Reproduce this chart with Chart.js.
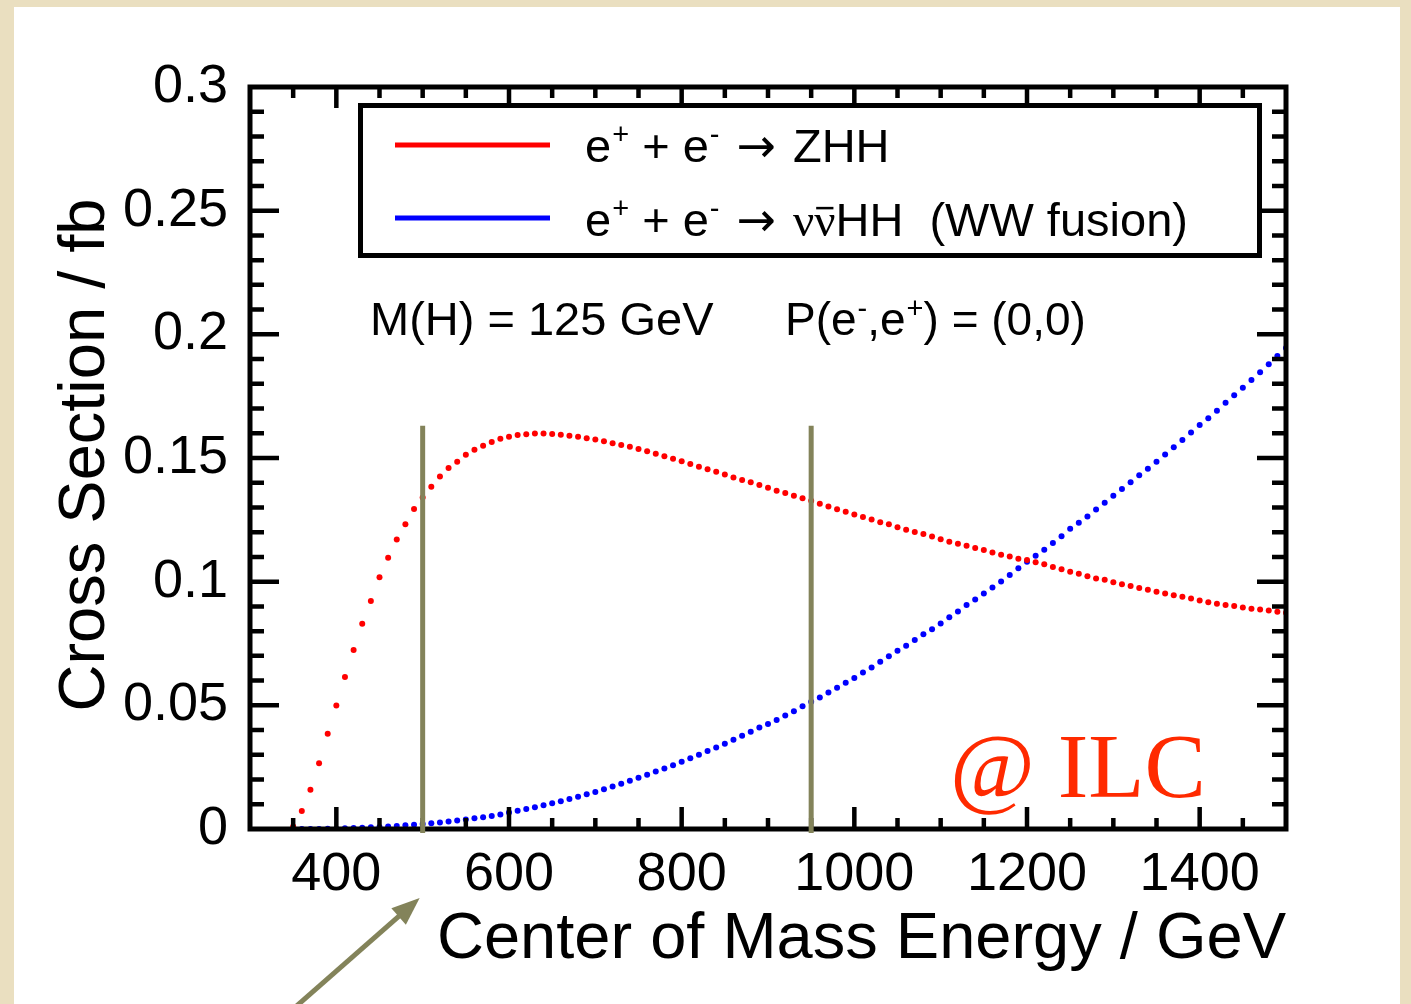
<!DOCTYPE html>
<html>
<head>
<meta charset="utf-8">
<script src="https://cdn.jsdelivr.net/npm/chart.js@4.4.1/dist/chart.umd.min.js"></script>
<style>
    html, body { margin: 0; padding: 0; }
    body { width: 1411px; height: 1004px; background: #eadfc0; position: relative; overflow: hidden; }
    #panel { position: absolute; left: 14px; top: 7px; width: 1386px; height: 1010px; background: #fff; }
    #grafico { position: absolute; left: 0; top: 0; }
</style>
</head>
<body>
<div id="panel"></div>
<canvas id="grafico" width="1411" height="1004"></canvas>
<script>
// Energia de centro de masa (GeV), un punto cada 10 GeV
const energias = [
    350, 360, 370, 380, 390, 400, 410, 420, 430, 440, 450, 460, 470, 480, 490, 500,
    510, 520, 530, 540, 550, 560, 570, 580, 590, 600, 610, 620, 630, 640, 650, 660,
    670, 680, 690, 700, 710, 720, 730, 740, 750, 760, 770, 780, 790, 800, 810, 820,
    830, 840, 850, 860, 870, 880, 890, 900, 910, 920, 930, 940, 950, 960, 970, 980,
    990, 1000, 1010, 1020, 1030, 1040, 1050, 1060, 1070, 1080, 1090, 1100, 1110, 1120,
    1130, 1140, 1150, 1160, 1170, 1180, 1190, 1200, 1210, 1220, 1230, 1240, 1250, 1260,
    1270, 1280, 1290, 1300, 1310, 1320, 1330, 1340, 1350, 1360, 1370, 1380, 1390, 1400,
    1410, 1420, 1430, 1440, 1450, 1460, 1470, 1480, 1490, 1500
];

// e+ e- -> ZHH (fb)
const sigmaZHH = [
    0.0010, 0.0073, 0.0159, 0.0266, 0.0385, 0.0499, 0.0615, 0.0724, 0.0830, 0.0922, 0.1018, 0.1097, 0.1170, 0.1232, 0.1294, 0.1340,
    0.1384, 0.1425, 0.1460, 0.1485, 0.1513, 0.1533, 0.1550, 0.1565, 0.1578, 0.1586, 0.1593, 0.1596, 0.1599, 0.1599, 0.1597, 0.1594,
    0.1590, 0.1586, 0.1580, 0.1575, 0.1568, 0.1560, 0.1553, 0.1545, 0.1536, 0.1527, 0.1517, 0.1507, 0.1497, 0.1487, 0.1476, 0.1465,
    0.1455, 0.1444, 0.1433, 0.1421, 0.1411, 0.1402, 0.1391, 0.1380, 0.1368, 0.1358, 0.1347, 0.1337, 0.1327, 0.1315, 0.1304, 0.1293,
    0.1283, 0.1272, 0.1261, 0.1251, 0.1240, 0.1232, 0.1220, 0.1210, 0.1201, 0.1193, 0.1183, 0.1171, 0.1161, 0.1153,
    0.1145, 0.1136, 0.1128, 0.1118, 0.1109, 0.1102, 0.1093, 0.1088, 0.1079, 0.1070, 0.1059, 0.1050, 0.1040, 0.1032,
    0.1022, 0.1013, 0.1008, 0.0998, 0.0990, 0.0982, 0.0974, 0.0967, 0.0959, 0.0952, 0.0945, 0.0939, 0.0932, 0.0924,
    0.0917, 0.0911, 0.0906, 0.0902, 0.0896, 0.0891, 0.0887, 0.0883, 0.0878, 0.0874
];

// e+ e- -> nu nubar HH, fusion WW (fb)
const sigmaWW = [
    0.0000, 0.0000, 0.0000, 0.0000, 0.0001, 0.0001, 0.0003, 0.0004, 0.0005, 0.0007, 0.0008, 0.0010, 0.0012, 0.0015, 0.0017, 0.0020,
    0.0023, 0.0026, 0.0030, 0.0034, 0.0038, 0.0043, 0.0048, 0.0053, 0.0059, 0.0067, 0.0074, 0.0081, 0.0088, 0.0096, 0.0104, 0.0112,
    0.0121, 0.0130, 0.0140, 0.0150, 0.0161, 0.0172, 0.0183, 0.0195, 0.0207, 0.0219, 0.0232, 0.0245, 0.0258, 0.0272, 0.0286, 0.0300,
    0.0315, 0.0330, 0.0345, 0.0361, 0.0377, 0.0393, 0.0410, 0.0425, 0.0441, 0.0459, 0.0476, 0.0496, 0.0514, 0.0532, 0.0552, 0.0571,
    0.0591, 0.0611, 0.0633, 0.0653, 0.0676, 0.0698, 0.0721, 0.0741, 0.0764, 0.0787, 0.0808, 0.0831, 0.0856, 0.0879,
    0.0906, 0.0928, 0.0952, 0.0976, 0.1001, 0.1027, 0.1054, 0.1081, 0.1105, 0.1129, 0.1156, 0.1184, 0.1214, 0.1238,
    0.1263, 0.1292, 0.1319, 0.1347, 0.1375, 0.1402, 0.1430, 0.1457, 0.1485, 0.1514, 0.1543, 0.1573, 0.1603, 0.1633,
    0.1661, 0.1691, 0.1723, 0.1754, 0.1784, 0.1815, 0.1847, 0.1879, 0.1912, 0.1945
];

// Ejes
const xTicks = [400, 600, 800, 1000, 1200, 1400];
const xTickLabels = ['400', '600', '800', '1000', '1200', '1400'];
const yTicks = [0, 0.05, 0.1, 0.15, 0.2, 0.25, 0.3];
const yTickLabels = ['0', '0.05', '0.1', '0.15', '0.2', '0.25', '0.3'];

// Lineas verticales (energias de operacion) y su altura
const lineasEnergia = [500, 950];
const lineasTope = 0.163;

const SANS = "'Liberation Sans', Arial, Helvetica, sans-serif";
const SERIF = "'Liberation Serif', 'Times New Roman', serif";
const FLECHA = "'DejaVu Sans', sans-serif";
const OLIVA = '#83835a';

Chart.defaults.font.family = SANS;
Chart.defaults.color = '#000';

// Texto con superindices, flecha y nu con barra
function textoRico(ctx, x, y, partes, size) {
    let cx = x;
    partes.forEach(p => {
        const tipo = p[1] || 'n';
        if (tipo === 'sup') {
            ctx.font = Math.round(size * 0.62) + 'px ' + SANS;
            ctx.fillText(p[0], cx + 1, y - size * 0.38);
            cx += ctx.measureText(p[0]).width + 1;
        } else if (tipo === 'flecha') {
            ctx.font = size + 'px ' + FLECHA;
            ctx.fillText(p[0], cx + 4, y);
            cx += ctx.measureText(p[0]).width + 8;
        } else if (tipo === 'nu' || tipo === 'nubar') {
            ctx.font = size + 'px ' + SERIF;
            const w = ctx.measureText(p[0]).width;
            ctx.fillText(p[0], cx, y);
            if (tipo === 'nubar') {
                ctx.fillRect(cx + 2, y - size * 0.62, w - 4, 2.5);
            }
            cx += w;
        } else {
            ctx.font = size + 'px ' + SANS;
            ctx.fillText(p[0], cx, y);
            cx += ctx.measureText(p[0]).width;
        }
    });
}

// Marco, ticks internos en los cuatro lados, textos y flecha
const decoracion = {
    id: 'decoracion',
    afterDatasetsDraw(chart) {
        const ctx = chart.ctx;
        const a = chart.chartArea;
        const xs = chart.scales.x;
        const ys = chart.scales.y;

        ctx.save();
        ctx.strokeStyle = '#000';
        ctx.lineCap = 'butt';

        // ticks eje X (mayor cada 200, menor cada 50)
        ctx.lineWidth = 4.5;
        for (let v = xs.min + 50; v < xs.max; v += 50) {
            const px = xs.getPixelForValue(v);
            const mayor = xTicks.includes(v);
            ctx.beginPath();
            ctx.moveTo(px, a.bottom); ctx.lineTo(px, a.bottom - (mayor ? 22 : 11));
            ctx.moveTo(px, a.top); ctx.lineTo(px, a.top + (mayor ? 21 : 11));
            ctx.stroke();
        }
        // ticks eje Y (mayor cada 0.05, menor cada 0.01)
        for (let i = 1; i < 30; i++) {
            const v = i / 100;
            const py = ys.getPixelForValue(v);
            const mayor = i % 5 === 0;
            ctx.beginPath();
            ctx.moveTo(a.left, py); ctx.lineTo(a.left + (mayor ? 29 : 14), py);
            ctx.moveTo(a.right, py); ctx.lineTo(a.right - (mayor ? 29 : 14), py);
            ctx.stroke();
        }

        // marco
        ctx.lineWidth = 5;
        ctx.strokeRect(a.left, a.top, a.right - a.left, a.bottom - a.top);

        // lineas verticales
        ctx.strokeStyle = OLIVA;
        ctx.lineWidth = 5;
        lineasEnergia.forEach(e => {
            const px = xs.getPixelForValue(e);
            ctx.beginPath();
            ctx.moveTo(px, ys.getPixelForValue(lineasTope));
            ctx.lineTo(px, a.bottom + 4);
            ctx.stroke();
        });

        // flecha hacia 500 GeV
        const tipX = xs.getPixelForValue(lineasEnergia[0]) - 3;
        const tipY = a.bottom + 69;
        const ang = Math.atan2(tipY - 1010, tipX - 292);
        ctx.beginPath();
        ctx.moveTo(292, 1010);
        ctx.lineTo(tipX - 18 * Math.cos(ang), tipY - 18 * Math.sin(ang));
        ctx.stroke();
        ctx.fillStyle = OLIVA;
        ctx.beginPath();
        ctx.moveTo(tipX, tipY);
        ctx.lineTo(tipX - 28 * Math.cos(ang) + 11 * Math.sin(ang), tipY - 28 * Math.sin(ang) - 11 * Math.cos(ang));
        ctx.lineTo(tipX - 28 * Math.cos(ang) - 11 * Math.sin(ang), tipY - 28 * Math.sin(ang) + 11 * Math.cos(ang));
        ctx.closePath();
        ctx.fill();

        // leyenda
        ctx.strokeStyle = '#000';
        ctx.lineWidth = 5;
        ctx.strokeRect(360.5, 105.5, 899, 150);
        ctx.lineWidth = 5;
        ctx.strokeStyle = '#ff0000';
        ctx.beginPath(); ctx.moveTo(395, 145); ctx.lineTo(550, 145); ctx.stroke();
        ctx.strokeStyle = '#0000ff';
        ctx.beginPath(); ctx.moveTo(395, 218); ctx.lineTo(550, 218); ctx.stroke();

        ctx.fillStyle = '#000';
        ctx.textAlign = 'left';
        ctx.textBaseline = 'alphabetic';
        textoRico(ctx, 585, 162, [['e'], ['+', 'sup'], [' + e'], ['-', 'sup'], [' '], ['\u2192', 'flecha'], [' ZHH']], 47);
        textoRico(ctx, 585, 236, [['e'], ['+', 'sup'], [' + e'], ['-', 'sup'], [' '], ['\u2192', 'flecha'], [' '], ['\u03bd', 'nu'], ['\u03bd', 'nubar'], ['HH  (WW fusion)']], 47);

        textoRico(ctx, 370, 335, [['M(H) = 125 GeV']], 47);
        textoRico(ctx, 785, 335, [['P(e'], ['-', 'sup'], [',e'], ['+', 'sup'], [') = (0,0)']], 46);

        // @ ILC
        ctx.fillStyle = '#ff2a00';
        ctx.font = '92px ' + SERIF;
        ctx.fillText('@ ILC', 950, 797);

        // titulos de ejes
        ctx.fillStyle = '#000';
        ctx.font = '65px ' + SANS;
        ctx.textAlign = 'right';
        ctx.fillText('Center of Mass Energy / GeV', 1286, 958);

        ctx.save();
        ctx.translate(104, 455);
        ctx.rotate(-Math.PI / 2);
        ctx.textAlign = 'center';
        ctx.fillText('Cross Section / fb', 0, 0);
        ctx.restore();

        ctx.restore();
    }
};

const puntos = (serie) => energias.map((e, i) => ({ x: e, y: serie[i] }));

new Chart(document.getElementById('grafico'), {
    type: 'scatter',
    data: {
        datasets: [
            {
                label: 'ZHH',
                data: puntos(sigmaZHH),
                backgroundColor: '#ff0000',
                borderWidth: 0,
                pointRadius: 3
            },
            {
                label: 'WW fusion',
                data: puntos(sigmaWW),
                backgroundColor: '#0000ff',
                borderWidth: 0,
                pointRadius: 3
            }
        ]
    },
    options: {
        responsive: false,
        animation: false,
        devicePixelRatio: 1,
        layout: { padding: { top: 87, right: 125, left: 0, bottom: 0 } },
        plugins: { legend: { display: false }, tooltip: { enabled: false } },
        scales: {
            x: {
                type: 'linear',
                min: 300,
                max: 1500,
                grid: { display: false, drawTicks: false },
                border: { display: false },
                afterBuildTicks: s => { s.ticks = xTicks.map(v => ({ value: v })); },
                afterFit: s => { s.height = 175; },
                ticks: {
                    autoSkip: false,
                    maxRotation: 0,
                    padding: 14,
                    font: { size: 54 },
                    color: '#000',
                    callback: (v, i) => xTickLabels[i]
                }
            },
            y: {
                min: 0,
                max: 0.3,
                grid: { display: false, drawTicks: false },
                border: { display: false },
                afterBuildTicks: s => { s.ticks = yTicks.map(v => ({ value: v })); },
                afterFit: s => { s.width = 250; },
                ticks: {
                    autoSkip: false,
                    padding: 22,
                    font: { size: 54 },
                    color: '#000',
                    callback: (v, i) => yTickLabels[i]
                }
            }
        }
    },
    plugins: [decoracion]
});
</script>
</body>
</html>
